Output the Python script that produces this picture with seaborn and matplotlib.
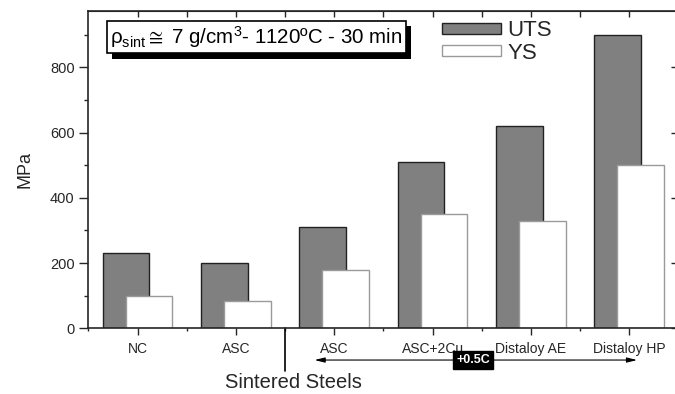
import numpy as np
import pandas as pd
import matplotlib
matplotlib.use("Agg")
import matplotlib.pyplot as plt
import matplotlib.patches as mpatches
import matplotlib.patheffects as pe
from matplotlib.ticker import MultipleLocator
import seaborn as sns

sns.set_style("ticks")
plt.rcParams['font.family'] = ['Liberation Sans', 'DejaVu Sans']
plt.rcParams['mathtext.fontset'] = 'custom'
plt.rcParams['mathtext.rm'] = 'Liberation Sans'
plt.rcParams['mathtext.it'] = 'Liberation Sans'

# data
steels = ["NC", "ASC", "ASC", "ASC+2Cu", "Distaloy AE", "Distaloy HP"]
uts = [230, 200, 310, 510, 620, 900]
ys = [100, 85, 180, 350, 330, 500]

pos = np.arange(len(steels))
off = 0.117
bw = 0.475

fig = plt.figure(figsize=(6.75, 3.94), dpi=100)
ax = fig.add_axes([0.131, 0.1667, 0.874, 0.805])

df_u = pd.DataFrame({"x": pos - off, "v": uts})
df_y = pd.DataFrame({"x": pos + off, "v": ys})
sns.barplot(data=df_u, x="x", y="v", native_scale=True, width=bw,
            color="#808080", saturation=1, edgecolor="#222222", linewidth=1.0, ax=ax)
sns.barplot(data=df_y, x="x", y="v", native_scale=True, width=bw,
            color="white", saturation=1, edgecolor="#9a9a9a", linewidth=1.0, ax=ax)

ax.set_xlim(-0.5, 5.5)
ax.set_ylim(0, 972)
ax.set_xticks(pos)
ax.set_xticklabels(steels, fontsize=10)
ax.xaxis.set_minor_locator(MultipleLocator(1, offset=0.5))
ax.yaxis.set_major_locator(MultipleLocator(200))
ax.yaxis.set_minor_locator(MultipleLocator(100))
ax.tick_params(axis='y', labelsize=10.5, length=6.5, width=1, direction='out')
ax.tick_params(axis='y', which='minor', length=3, width=1, direction='out')
ax.tick_params(axis='x', length=5, width=1, direction='out', pad=5)
ax.tick_params(axis='x', which='minor', length=2.5, width=1, direction='out')
ax.set_xlabel("")
ax.set_ylabel("MPa", fontsize=13, labelpad=12)
for s in ax.spines.values():
    s.set_linewidth(1.2)

# inward ticks on top and right
top = ax.secondary_xaxis('top')
top.set_xticks(np.arange(0, 6, 0.5))
top.tick_params(direction='in', length=4, width=1, labeltop=False)
right = ax.secondary_yaxis('right')
right.set_yticks(np.arange(0, 1000, 200))
right.yaxis.set_minor_locator(MultipleLocator(100))
right.tick_params(direction='in', length=5, width=1, labelright=False)
right.tick_params(which='minor', direction='in', length=2.5, width=1)

# legend
handles = [mpatches.Patch(facecolor="#808080", edgecolor="#222222", label="UTS"),
           mpatches.Patch(facecolor="white", edgecolor="#9a9a9a", label="YS")]
fig.legend(handles=handles, loc='upper left', bbox_to_anchor=(0.655, 0.948),
           frameon=False, fontsize=16, handlelength=2.65, handleheight=0.36,
           labelspacing=0.05, handletextpad=0.3, borderaxespad=0, borderpad=0)

# condition box with drop shadow
txt = r"ρ$_{\mathrm{sint}}$$\cong$ 7 g/cm$^3$- 1120ºC - 30 min"
box = fig.text(0.163, 0.906, txt, fontsize=14.8, color="black", va='center', ha='left',
               bbox=dict(boxstyle='square,pad=0.16', facecolor='white',
                         edgecolor='black', linewidth=1.2))
box.get_bbox_patch().set_path_effects([
    pe.SimplePatchShadow(offset=(4, -4), shadow_rgbFace='black', alpha=1.0),
    pe.Normal()])

# lower annotations
tr = ax.get_xaxis_transform()
ax.plot([1.5, 1.5], [0, -0.134], color='black', lw=1.2, transform=tr, clip_on=False)
ax.text(1.58, -0.172, "Sintered Steels", fontsize=14.5, ha='center', va='center',
        transform=tr)
ax.annotate('', xy=(5.08, -0.1), xytext=(1.80, -0.1), xycoords=tr, textcoords=tr,
            arrowprops=dict(arrowstyle='<|-|>,head_length=0.6,head_width=0.15',
                            color='black', lw=0.8, shrinkA=0, shrinkB=0))
ax.text(3.41, -0.1, "+0.5C", fontsize=9, fontweight='bold', color='white',
        ha='center', va='center', transform=tr,
        bbox=dict(boxstyle='square,pad=0.22', facecolor='black', edgecolor='black'))

fig.savefig("out.png", dpi=100)
